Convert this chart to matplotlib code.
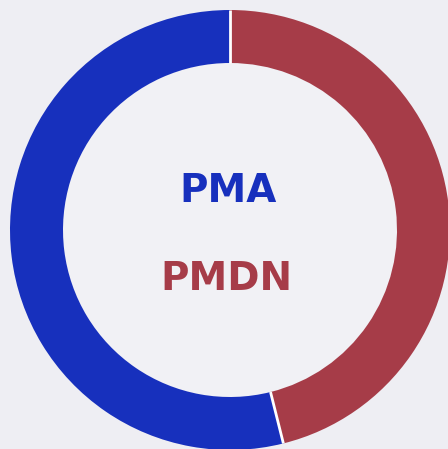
import numpy as np
import matplotlib.pyplot as plt

# shares (PMDN red from 12 o'clock clockwise, PMA blue the rest)
labels = ['PMDN', 'PMA']
shares = [46.1, 53.9]
colors = ['#a63c48', '#1730bd']

W, H = 448, 449
fig = plt.figure(figsize=(W / 100, H / 100), dpi=100)
fig.patch.set_facecolor('#eeeef3')
ax = fig.add_axes([0, 0, 1, 1])
ax.set_facecolor('#eeeef3')

cx, cy = 230, H - 230
r_out, ring = 220, 53
ax.pie(shares, colors=colors, startangle=90, counterclock=False,
       center=(cx, cy), radius=r_out, frame=True,
       wedgeprops=dict(width=ring, linewidth=0))

# thin white separators only between the slices
bounds = np.cumsum([0] + shares[:-1]) / sum(shares) * 360
for b in bounds:
    a = np.deg2rad(90 - b)
    ax.plot([cx + (r_out - ring) * np.cos(a), cx + r_out * np.cos(a)],
            [cy + (r_out - ring) * np.sin(a), cy + r_out * np.sin(a)],
            color='white', lw=2, solid_capstyle='butt')

inner = plt.Circle((cx, cy), r_out - ring, color='#f1f1f5', zorder=0.5)
ax.add_patch(inner)

ax.text(cx - 2, H - 191, 'PMA', color=colors[1], fontsize=28, fontweight='bold',
        ha='center', va='center', family='DejaVu Sans')
ax.text(cx - 4, H - 279, 'PMDN', color=colors[0], fontsize=28, fontweight='bold',
        ha='center', va='center', family='DejaVu Sans')

ax.set_xlim(0, W)
ax.set_ylim(0, H)
ax.set_aspect('equal')
ax.axis('off')

fig.savefig('out.png', dpi=100, facecolor=fig.get_facecolor())
